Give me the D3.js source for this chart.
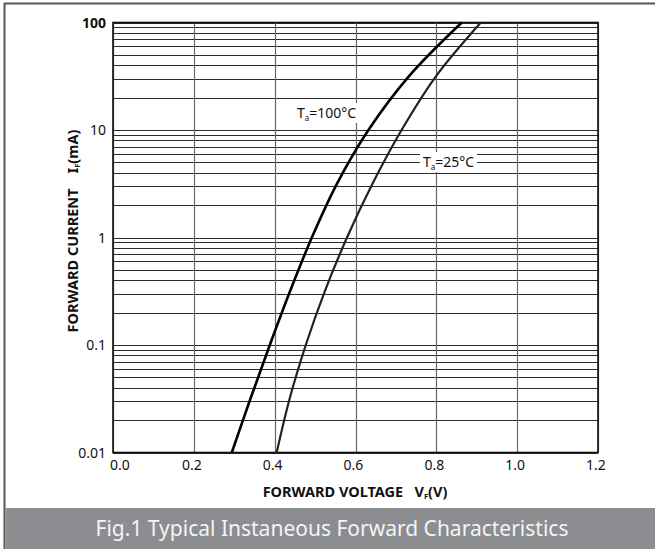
<!DOCTYPE html>
<html>
<head>
<meta charset="utf-8">
<script src="https://cdn.jsdelivr.net/npm/d3@7"></script>
<style>
  body { margin: 0; background: #fff; }
  svg { display: block; font-family: "Noto Sans", "Open Sans", sans-serif; }
  text { white-space: pre; }
</style>
</head>
<body>
<svg id="chart" width="655" height="549"></svg>
<script>
// forward current (mA) vs forward voltage (V)
const current100 = [0.01, 0.0316, 0.1, 0.316, 1, 3.16, 10, 31.6, 100];
const voltage100 = [0.294, 0.340, 0.388, 0.438, 0.492, 0.554, 0.632, 0.732, 0.863];
const current25 = [0.01, 0.0316, 0.1, 0.316, 1, 3.16, 10, 31.6, 100];
const voltage25 = [0.405, 0.437, 0.477, 0.524, 0.579, 0.642, 0.714, 0.799, 0.910];

const xTicks = [0, 0.2, 0.4, 0.6, 0.8, 1.0, 1.2];
const yTicks = [0.01, 0.1, 1, 10, 100];
const yTickLabels = ['0.01', '0.1', '1', '10', '100'];

const svg = d3.select('#chart');
const W = 655, H = 549;
const plot = { left: 113, right: 598, top: 22.5, bottom: 452.5 };

const x = d3.scaleLinear().domain([0, 1.2]).range([plot.left, plot.right]);
const y = d3.scaleLog().domain([0.01, 100]).range([plot.bottom, plot.top]);

// outer frame
svg.append('line').attr('x1', 4).attr('x2', W).attr('y1', 3.5).attr('y2', 3.5)
  .attr('stroke', '#555').attr('stroke-width', 2);
svg.append('line').attr('x1', 4.5).attr('x2', 4.5).attr('y1', 3).attr('y2', H)
  .attr('stroke', '#555').attr('stroke-width', 2);

// caption band
svg.append('rect').attr('x', 5.5).attr('y', 508).attr('width', W - 5.5).attr('height', H - 508)
  .attr('fill', '#8c8d90');
svg.append('text').attr('x', 332).attr('y', 536).attr('text-anchor', 'middle')
  .attr('font-size', 21).attr('fill', '#f4f4f4')
  .text('Fig.1 Typical Instaneous Forward Characteristics');

// minor grid: 1..9 in each decade
const gridVals = [];
for (let e = -2; e < 2; e++) {
  for (let m = 1; m < 10; m++) gridVals.push(m * Math.pow(10, e));
}
gridVals.push(100);

svg.append('g').selectAll('line')
  .data(gridVals)
  .enter().append('line')
  .attr('x1', plot.left).attr('x2', plot.right)
  .attr('y1', d => Math.round(y(d)) + 0.5)
  .attr('y2', d => Math.round(y(d)) + 0.5)
  .attr('stroke', '#2a2a2a')
  .attr('stroke-width', 1.1);

svg.append('g').selectAll('line')
  .data(xTicks)
  .enter().append('line')
  .attr('x1', d => Math.round(x(d)) + 0.5).attr('x2', d => Math.round(x(d)) + 0.5)
  .attr('y1', plot.top).attr('y2', plot.bottom)
  .attr('stroke', '#666')
  .attr('stroke-width', 1.2);

// plot border
svg.append('rect')
  .attr('x', plot.left).attr('y', plot.top)
  .attr('width', plot.right - plot.left).attr('height', plot.bottom - plot.top)
  .attr('fill', 'none').attr('stroke', '#111').attr('stroke-width', 1.6);

// curves
const line = d3.line()
  .x(d => x(d[0]))
  .y(d => y(d[1]))
  .curve(d3.curveCatmullRom);

svg.append('path')
  .datum(voltage100.map((v, i) => [v, current100[i]]))
  .attr('d', line)
  .attr('fill', 'none').attr('stroke', '#000').attr('stroke-width', 2.6);

svg.append('path')
  .datum(voltage25.map((v, i) => [v, current25[i]]))
  .attr('d', line)
  .attr('fill', 'none').attr('stroke', '#222').attr('stroke-width', 2.2);

// curve labels with white background
function curveLabel(cx, cy, temp, bw) {
  const g = svg.append('g');
  g.append('rect').attr('x', cx - 3).attr('y', cy - 15).attr('width', bw).attr('height', 20)
    .attr('fill', '#fff');
  const t = g.append('text').attr('x', cx).attr('y', cy)
    .attr('font-size', 14).attr('fill', '#111');
  t.append('tspan').text('T');
  t.append('tspan').attr('font-size', 8).attr('dy', 3).text('a');
  t.append('tspan').attr('dy', -3).text('=' + temp + '°C');
}
curveLabel(297, 118, 100, 64);
curveLabel(423, 167, 25, 57);

// y tick labels
svg.append('g').selectAll('text')
  .data(yTicks)
  .enter().append('text')
  .attr('x', 106)
  .attr('y', d => y(d) + 5)
  .attr('text-anchor', 'end')
  .attr('font-size', 14)
  .attr('font-weight', (d, i) => i === yTicks.length - 1 ? 'bold' : 'normal')
  .attr('fill', '#111')
  .text((d, i) => yTickLabels[i]);

// x tick labels
svg.append('g').selectAll('text')
  .data(xTicks)
  .enter().append('text')
  .attr('x', (d, i) => x(d) + (i === 0 ? 7 : -2))
  .attr('y', 470)
  .attr('text-anchor', 'middle')
  .attr('font-size', 14)
  .attr('fill', '#111')
  .text(d => d.toFixed(1));

// axis titles
const xt = svg.append('text').attr('x', 355).attr('y', 497)
  .attr('text-anchor', 'middle').attr('font-size', 14.5).attr('font-weight', 'bold')
  .attr('fill', '#111');
xt.append('tspan').text('FORWARD VOLTAGE   V');
xt.append('tspan').attr('font-size', 7.5).attr('dy', 2).text('F');
xt.append('tspan').attr('dy', -2).text('(V)');

const yt = svg.append('text').attr('transform', 'translate(78,231) rotate(-90)')
  .attr('text-anchor', 'middle').attr('font-size', 14.5).attr('font-weight', 'bold')
  .attr('fill', '#111');
yt.append('tspan').text('FORWARD CURRENT    I');
yt.append('tspan').attr('font-size', 7.5).attr('dy', 2).text('F');
yt.append('tspan').attr('dy', -2).text('(mA)');
</script>
</body>
</html>
